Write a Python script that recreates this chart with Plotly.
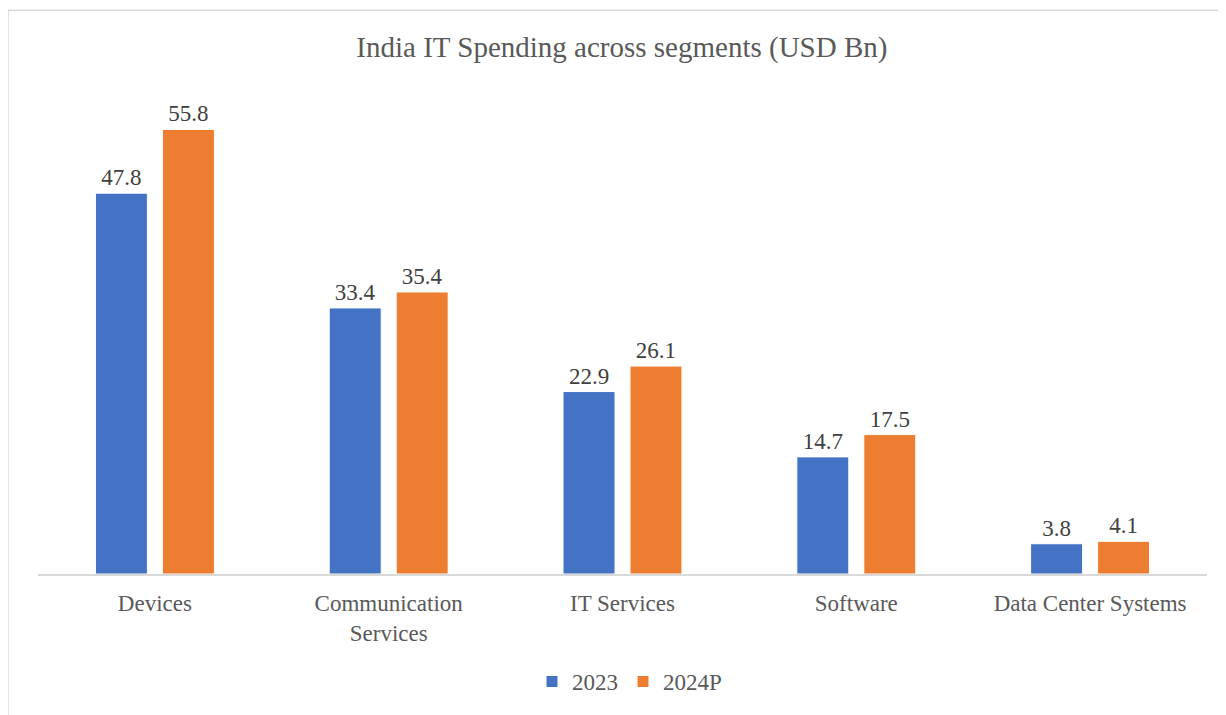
import plotly.graph_objects as go

segments = ["Devices", "Communication<br>Services", "IT Services", "Software", "Data Center Systems"]
spend_2023 = [47.8, 33.4, 22.9, 14.7, 3.8]
spend_2024p = [55.8, 35.4, 26.1, 17.5, 4.1]

BLUE = "#4472C4"
ORANGE = "#ED7D31"
SERIF = "Liberation Serif, Times New Roman, serif"

fig = go.Figure()
for name, vals, color in [("2023", spend_2023, BLUE), ("2024P", spend_2024p, ORANGE)]:
    fig.add_trace(go.Bar(
        name=name, x=segments, y=vals, marker={"color": color, "line": {"color": "white", "width": 1}},
        text=[f"{v:.1f}" for v in vals], textposition="outside", cliponaxis=False,
        textfont={"size": 23, "color": "#404040", "family": SERIF},
    ))

# page body has an 8px margin, so the figure is sized to the visible area
W, H = 1218, 707
L, R, T, B = 30, 19, 88, 139
PW, PH = W - L - R, H - T - B

fig.update_layout(
    width=W, height=H,
    paper_bgcolor="white", plot_bgcolor="white",
    font={"family": SERIF, "color": "#595959"},
    title={"text": "India IT Spending across segments (USD Bn)", "font": {"size": 29, "color": "#595959"},
           "x": 0.504, "xanchor": "center", "y": 1 - 39 / H, "yanchor": "middle"},
    barmode="group", bargap=0.427, bargroupgap=0.224,
    margin={"l": L, "r": R, "t": T, "b": B},
    showlegend=True,
    legend={"orientation": "h", "x": 0.506, "xanchor": "center", "y": -0.225, "yanchor": "middle",
            "font": {"size": 23, "color": "#595959"}, "itemwidth": 30, "traceorder": "normal"},
)
fig.update_xaxes(showline=True, linecolor="#d9d9d9", linewidth=1.5, ticks="", showgrid=False,
                 tickfont={"size": 23, "color": "#595959"}, ticklabelstandoff=8)
fig.update_yaxes(range=[0, 60], visible=False, showgrid=False)

# chart border
fig.add_shape(type="rect", xref="paper", yref="paper",
              x0=-L / PW, x1=(W + 20 - L) / PW, y0=-(B + 20) / PH, y1=(PH + T - 2) / PH,
              line={"color": "#d9d9d9", "width": 1.5}, fillcolor="rgba(0,0,0,0)", layer="below")

fig.write_html("out.html")
